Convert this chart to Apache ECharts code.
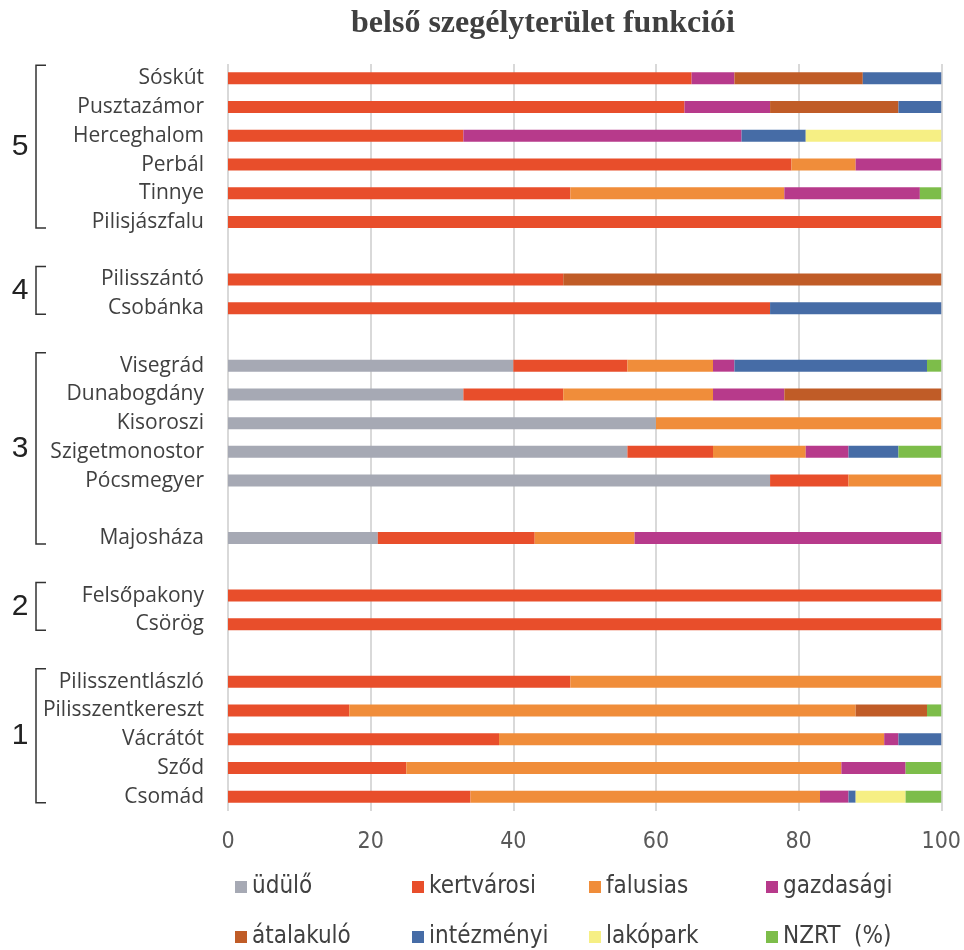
<!DOCTYPE html>
<html>
<head>
<meta charset="utf-8">
<script src="https://cdn.jsdelivr.net/npm/echarts@6/dist/echarts.min.js"></script>
<style>
html,body{margin:0;padding:0;background:#fff;}
#chart{width:964px;height:950px;}
</style>
</head>
<body>
<div id="chart"></div>
<script>
const titleText = 'belső szegélyterület funkciói';
const categories = ['Sóskút','Pusztazámor','Herceghalom','Perbál','Tinnye','Pilisjászfalu',' ',
  'Pilisszántó','Csobánka','  ',
  'Visegrád','Dunabogdány','Kisoroszi','Szigetmonostor','Pócsmegyer','   ',
  'Majosháza','    ',
  'Felsőpakony','Csörög','     ',
  'Pilisszentlászló','Pilisszentkereszt','Vácrátót','Sződ','Csomád'];
const seriesNames = ['üdülő','kertvárosi','falusias','gazdasági','átalakuló','intézményi','lakópark','NZRT  (%)'];
const udulo      = [0,0,0,0,0,0, 0, 0,0, 0, 40,33,60,56,76, 0, 21, 0, 0,0, 0, 0,0,0,0,0];
const kertvarosi = [65,64,33,79,48,100, 0, 47,76, 0, 16,14,0,12,11, 0, 22, 0, 100,100, 0, 48,17,38,25,34];
const falusias   = [0,0,0,9,30,0, 0, 0,0, 0, 12,21,40,13,13, 0, 14, 0, 0,0, 0, 52,71,54,61,49];
const gazdasagi  = [6,12,39,12,19,0, 0, 0,0, 0, 3,10,0,6,0, 0, 43, 0, 0,0, 0, 0,0,2,9,4];
const atalakulo  = [18,18,0,0,0,0, 0, 53,0, 0, 0,22,0,0,0, 0, 0, 0, 0,0, 0, 0,10,0,0,0];
const intezmenyi = [11,6,9,0,0,0, 0, 0,24, 0, 27,0,0,7,0, 0, 0, 0, 0,0, 0, 0,0,6,0,1];
const lakopark   = [0,0,19,0,0,0, 0, 0,0, 0, 0,0,0,0,0, 0, 0, 0, 0,0, 0, 0,0,0,0,7];
const nzrt       = [0,0,0,0,3,0, 0, 0,0, 0, 2,0,0,6,0, 0, 0, 0, 0,0, 0, 0,2,0,5,5];
const xTicks = [0,20,40,60,80,100];
const groups = [
  {label:'5', from:'Sóskút', to:'Pilisjászfalu'},
  {label:'4', from:'Pilisszántó', to:'Csobánka'},
  {label:'3', from:'Visegrád', to:'Majosháza'},
  {label:'2', from:'Felsőpakony', to:'Csörög'},
  {label:'1', from:'Pilisszentlászló', to:'Csomád'}
];
const values = [udulo,kertvarosi,falusias,gazdasagi,atalakulo,intezmenyi,lakopark,nzrt];
const colors = ['#a6a9b4','#e84e2b','#f08d3a','#b73a8b','#c05c27','#466ca6','#f6ef84','#7dbd4a'];

const chart = echarts.init(document.getElementById('chart'), null, {renderer:'canvas'});
const narrow = "'Liberation Sans Narrow','DejaVu Sans Condensed',sans-serif";
const legendText = {fontFamily: narrow, fontSize: 24, color:'#404040'};
const legends = seriesNames.map((n,i)=>({
  data:[n], left: 230 + (i%4)*177, top: i<4 ? 870 : 920,
  itemWidth:12, itemHeight:12, itemGap:0, icon:'rect', textStyle:legendText, selectedMode:false
}));
const option = {
  backgroundColor:'#fff',
  animation:false,
  color: colors,
  title:{text:titleText, left:538, textAlign:'center', top:3,
    textStyle:{fontFamily:"'Liberation Serif',serif", fontWeight:'bold', fontSize:32, color:'#404040'}},
  legend: legends,
  grid:{left:228, right:21, top:64, bottom:139, containLabel:false},
  xAxis:{type:'value', min:0, max:100, interval:20,
    axisLine:{show:false}, axisTick:{show:false},
    splitLine:{show:true, lineStyle:{color:'#d9d9d9', width:2}},
    axisLabel:{margin:20, fontFamily:narrow, fontSize:23, color:'#595959',
      formatter:(v)=> xTicks.includes(v) ? String(v) : ''}},
  yAxis:{type:'category', data:categories, inverse:true,
    axisLine:{show:false}, axisTick:{show:false},
    axisLabel:{margin:24, fontFamily:"'Open Sans',sans-serif", fontSize:21, color:'#404040'}},
  series: seriesNames.map((n,i)=>({
    name:n, type:'bar', stack:'total', barWidth:12, data:values[i],
    itemStyle:{color:colors[i]}
  }))
};
chart.setOption(option);

const gfx = [];
groups.forEach(g=>{
  const y1 = chart.convertToPixel({yAxisIndex:0}, g.from) - 13;
  const y2 = chart.convertToPixel({yAxisIndex:0}, g.to) + 6;
  const st = {stroke:'#333', lineWidth:1.5};
  gfx.push({type:'polyline', shape:{points:[[46,y1],[36,y1],[36,y2],[46,y2]]}, style:Object.assign({fill:null},st)});
  gfx.push({type:'text', x:20, y:(y1+y2)/2, style:{text:g.label, fontFamily:"'Liberation Sans',Arial,sans-serif",
    fontSize:30, fill:'#222', align:'center', verticalAlign:'middle'}});
});
chart.setOption({graphic:gfx});
</script>
</body>
</html>
